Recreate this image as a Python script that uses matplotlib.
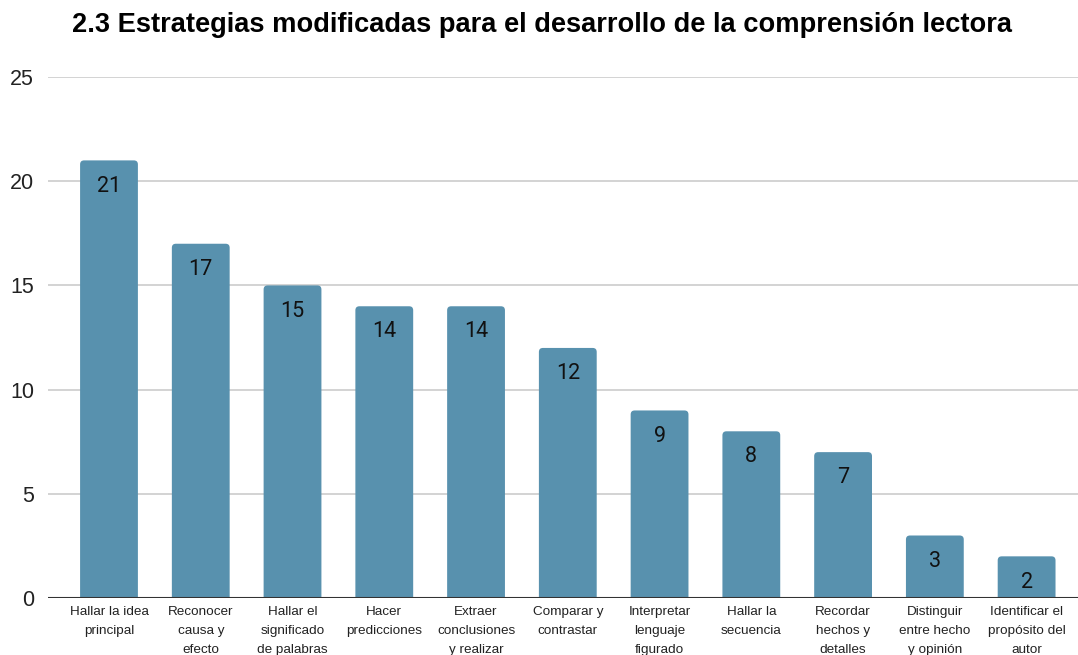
import matplotlib.pyplot as plt
from matplotlib.patches import FancyBboxPatch

# Datos de la grafica
categorias = [
    "Hallar la idea\nprincipal",
    "Reconocer\ncausa y\nefecto",
    "Hallar el\nsignificado\nde palabras",
    "Hacer\npredicciones",
    "Extraer\nconclusiones\ny realizar",
    "Comparar y\ncontrastar",
    "Interpretar\nlenguaje\nfigurado",
    "Hallar la\nsecuencia",
    "Recordar\nhechos y\ndetalles",
    "Distinguir\nentre hecho\ny opinión",
    "Identificar el\npropósito del\nautor",
]
valores = [21, 17, 15, 14, 14, 12, 9, 8, 7, 3, 2]
y_ticks = [0, 5, 10, 15, 20, 25]

color_barra = "#5891ae"
ancho = 0.63

fig = plt.figure(figsize=(10.78, 6.55), dpi=100)
ax = fig.add_axes([0.0445, 0.087, 0.9555, 0.7954])
ax.set_xlim(-0.665, 10.56)
ax.set_ylim(0, 25)

x = list(range(len(valores)))
barras = ax.bar(x, valores, width=ancho, color=color_barra, zorder=3)

# esquinas redondeadas: se cambia cada barra por un FancyBboxPatch
px_x = 0.9555 * 1078 / (10.56 + 0.665)
px_y = 0.7954 * 655 / 25
for b in barras:
    b.set_visible(False)
    x0 = b.get_x()
    alto = b.get_height()
    caja = FancyBboxPatch((x0, -1), ancho, alto + 1,
                          boxstyle="round,pad=0,rounding_size=%f" % (4 / px_x),
                          mutation_aspect=px_x / px_y,
                          facecolor=color_barra, edgecolor="none", zorder=3)
    ax.add_patch(caja)

# etiquetas dentro de la barra
for xi, v in zip(x, valores):
    ax.annotate(str(v), (xi, v), xytext=(0, -18.5), textcoords="offset points",
                ha="center", va="center", fontsize=15.5, family="Roboto", color="#111111", zorder=4)

ax.set_yticks(y_ticks)
ax.set_yticklabels([str(t) for t in y_ticks], fontsize=15.5, family="Liberation Sans", color="#222222")
ax.set_xticks(x)
ax.set_xticklabels(categorias, fontsize=9.7, family="Liberation Sans", color="#222222", linespacing=1.75)
ax.tick_params(axis="both", length=0)
ax.tick_params(axis="x", pad=6)
ax.tick_params(axis="y", pad=10)

ax.grid(axis="y", color="#cccccc", linewidth=1.2, zorder=0)
ax.axhline(0, color="#333333", linewidth=1.5, zorder=5)
for s in ax.spines.values():
    s.set_visible(False)

fig.text(0.503, 0.962, "2.3 Estrategias modificadas para el desarrollo de la comprensión lectora",
         ha="center", va="center", fontsize=19.6, fontweight="bold", family="Liberation Sans")

fig.savefig("out.png", dpi=100)
